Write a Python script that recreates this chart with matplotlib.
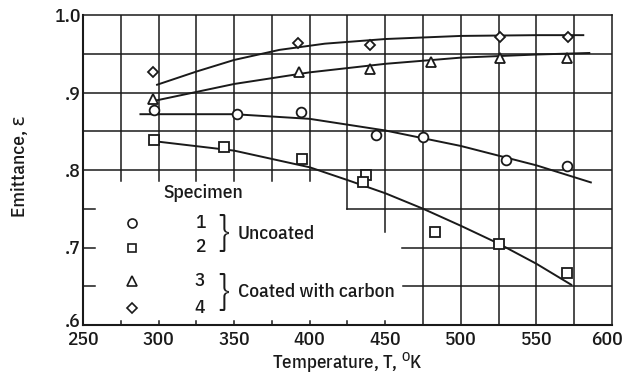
import matplotlib
matplotlib.use("Agg")
import matplotlib.pyplot as plt
import matplotlib.transforms as mtrans

FONT = ['IBM Plex Sans Condensed', 'DejaVu Sans']
plt.rcParams['font.family'] = FONT
plt.rcParams['font.weight'] = 500
plt.rcParams['mathtext.fontset'] = 'custom'
plt.rcParams['mathtext.rm'] = 'IBM Plex Sans Condensed:weight=500'

# ---- data ----
t1 = [297, 352, 394, 444, 475, 530, 570]
e1 = [0.877, 0.872, 0.875, 0.845, 0.843, 0.813, 0.805]
t2 = [297, 343, 395, 437, 435, 483, 525, 570]
e2 = [0.839, 0.830, 0.814, 0.794, 0.785, 0.720, 0.705, 0.667]
t3 = [296, 393, 440, 480, 526, 570]
e3 = [0.892, 0.927, 0.930, 0.940, 0.945, 0.945]
t4 = [296, 392, 440, 526, 571]
e4 = [0.926, 0.964, 0.961, 0.971, 0.971]

# faired curves
c1_t = [288, 320, 350, 400, 450, 500, 550, 586]
c1_e = [0.872, 0.872, 0.872, 0.866, 0.851, 0.831, 0.806, 0.784]
c2_t = [300, 350, 400, 425, 450, 475, 500, 525, 550, 573]
c2_e = [0.8365, 0.825, 0.8035, 0.787, 0.770, 0.750, 0.728, 0.705, 0.679, 0.652]
c3_t = [299, 350, 400, 450, 500, 550, 585]
c3_e = [0.890, 0.911, 0.926, 0.937, 0.945, 0.949, 0.951]
c4_t = [299, 325, 350, 380, 410, 450, 500, 550, 581]
c4_e = [0.910, 0.927, 0.942, 0.955, 0.963, 0.969, 0.973, 0.974, 0.974]

x_ticks = [250, 300, 350, 400, 450, 500, 550, 600]
y_ticks = [0.6, 0.7, 0.8, 0.9, 1.0]
y_ticklabels = ['.6', '.7', '.8', '.9', '1.0']
specimens = ['1', '2', '3', '4']
groups = ['Uncoated', 'Coated with carbon']

ink = '#1a1a1a'
fs = 14
fig = plt.figure(figsize=(6.23, 3.75), dpi=100)
ax = fig.add_axes([83/623, 1-325/375, (612-83)/623, (325-15)/375])
ax.set_xlim(250, 600)
ax.set_ylim(0.6, 1.0)

# ---- partial grid ----
glw = 1.1
vx = [275, 300, 325, 350, 375, 400, 425, 450, 475, 500, 525, 550, 575]
for x in vx:
    if x >= 475:
        lo = 0.6
    elif x == 450:
        lo = 0.72
    elif x == 425:
        lo = 0.75
    else:
        lo = 0.786
    ax.plot([x, x], [lo, 1.0], color=ink, lw=glw, zorder=1)
for y in [0.8, 0.85, 0.9, 0.95]:
    ax.plot([250, 600], [y, y], color=ink, lw=glw, zorder=1)
ax.plot([425, 600], [0.75, 0.75], color=ink, lw=glw, zorder=1)
ax.plot([461, 600], [0.70, 0.70], color=ink, lw=glw, zorder=1)
ax.plot([462, 600], [0.65, 0.65], color=ink, lw=glw, zorder=1)
# inward ticks in the legend corner
for y in [0.65, 0.7, 0.75]:
    ax.plot([250, 258], [y, y], color=ink, lw=glw, zorder=1)
for x in [275, 300, 325, 350, 375, 400, 425, 450]:
    ax.plot([x, x], [0.6, 0.605], color=ink, lw=glw, zorder=1)

for s in ax.spines.values():
    s.set_color(ink)
ax.spines['left'].set_linewidth(1.5)
ax.spines['bottom'].set_linewidth(1.5)
ax.spines['top'].set_linewidth(1.1)
ax.spines['right'].set_linewidth(1.1)

ax.set_xticks(x_ticks)
ax.set_yticks(y_ticks)
ax.set_yticklabels(y_ticklabels)
ax.tick_params(length=0, labelsize=fs, colors=ink, pad=2)
ax.tick_params(axis='x', pad=4)

# nudge the corner labels so they do not collide
yl = ax.get_yticklabels()
yl[0].set_transform(yl[0].get_transform() + mtrans.ScaledTranslation(0, 5/100, fig.dpi_scale_trans))
xl = ax.get_xticklabels()
xl[-1].set_transform(xl[-1].get_transform() + mtrans.ScaledTranslation(-5/100, 0, fig.dpi_scale_trans))

# ---- curves ----
for ct, ce in [(c1_t, c1_e), (c2_t, c2_e), (c3_t, c3_e), (c4_t, c4_e)]:
    ax.plot(ct, ce, color=ink, lw=1.4, zorder=2)

mk = dict(ls='none', mfc='white', mec=ink, mew=1.3, zorder=3)
ax.plot(t1, e1, marker='o', ms=7, **mk)
ax.plot(t2, e2, marker='s', ms=6.5, **mk)
ax.plot(t3, e3, marker='^', ms=7.5, **mk)
ax.plot(t4, e4, marker='D', ms=5.5, **mk)

# ---- in-plot legend ----
ax.text(303, 0.770, 'Specimen', fontsize=fs, color=ink, ha='left', va='center')
leg_y = [0.731, 0.700, 0.657, 0.622]
leg_m = [('o', 6.5), ('s', 6), ('^', 7), ('D', 5)]
for (m, ms), y, lab in zip(leg_m, leg_y, specimens):
    ax.plot([282.6], [y], marker=m, ms=ms, ls='none', mfc='white', mec=ink, mew=1.2)
    ax.text(327.4, y, lab, fontsize=fs, color=ink, ha='center', va='center')
ax.text(343, 0.717, '}', fontsize=30, color=ink, ha='center', va='center', fontweight=300)
ax.text(343, 0.641, '}', fontsize=30, color=ink, ha='center', va='center', fontweight=300)
ax.text(352.5, 0.717, groups[0], fontsize=fs, color=ink, ha='left', va='center')
ax.text(352.5, 0.642, groups[1], fontsize=fs, color=ink, ha='left', va='center')

fig.text(20/623, 1-166/375, 'Emittance, ε', rotation=90, fontsize=fs, color=ink,
         ha='center', va='center')
fig.text(347/623, 1-363/375, r'Temperature, T, $^{\mathrm{O}}$K', fontsize=13.5, color=ink,
         ha='center', va='center')

fig.savefig('out.png', dpi=100)
